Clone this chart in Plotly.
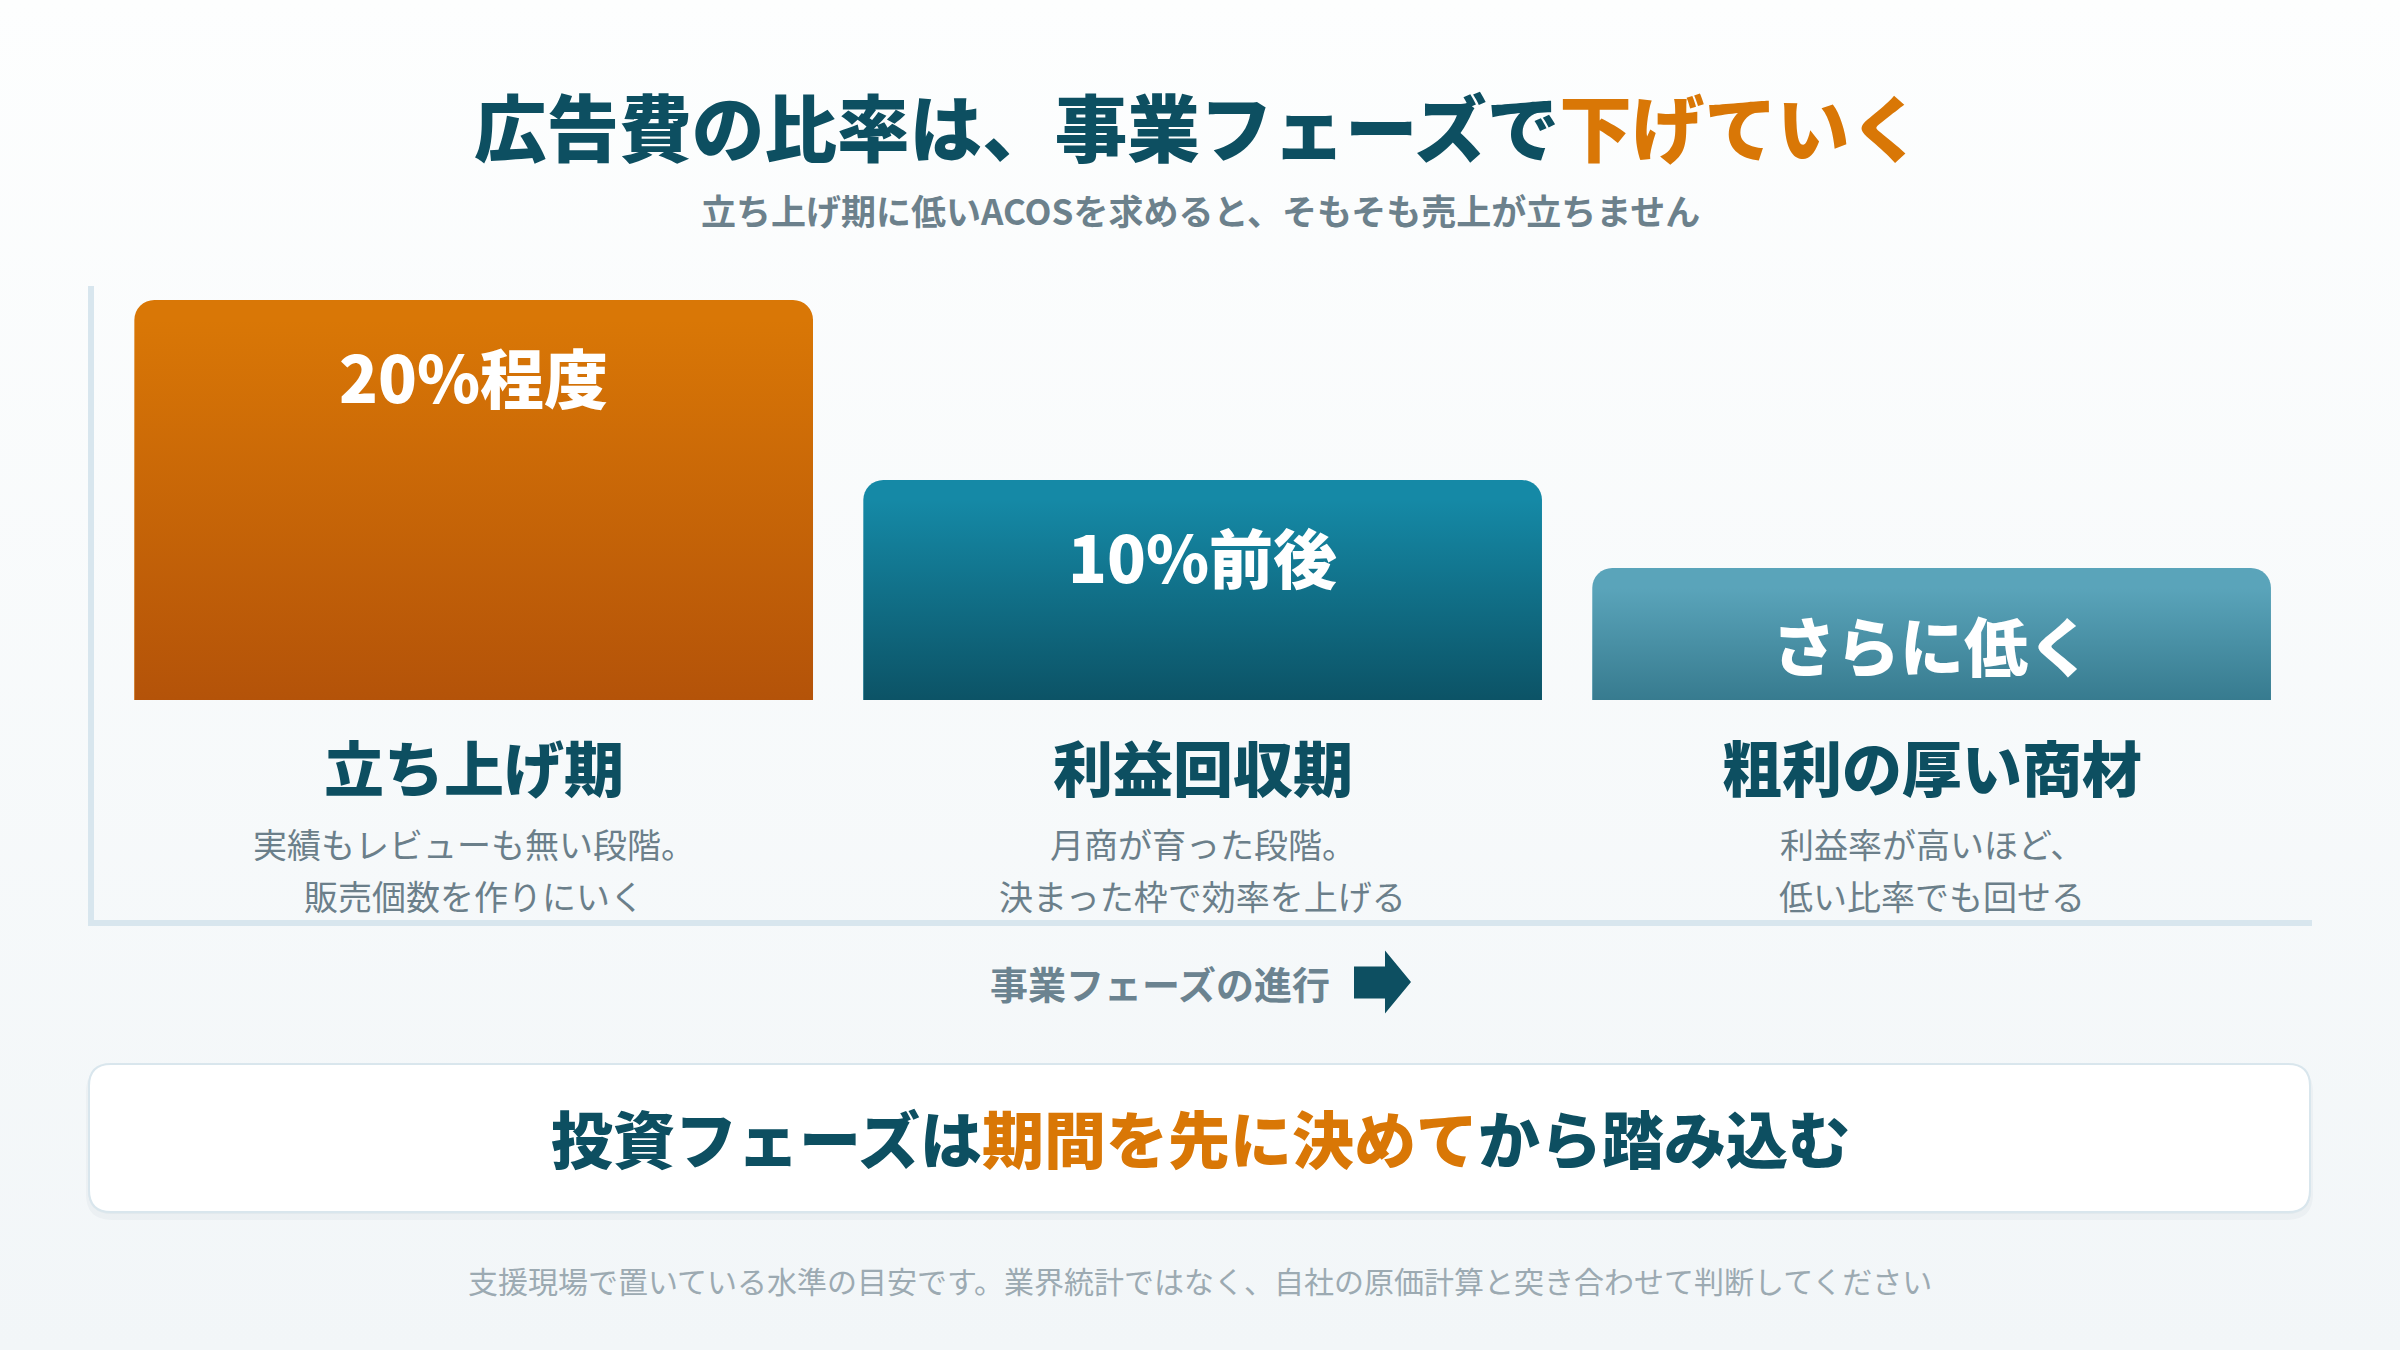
import base64
import plotly.graph_objects as go

# ---------------- data ----------------
title_main = "広告費の比率は、事業フェーズで"
title_accent = "下げていく"
subtitle = "立ち上げ期に低いACOSを求めると、そもそも売上が立ちません"

categories = ["立ち上げ期", "利益回収期", "粗利の厚い商材"]
bar_heights = [100, 55, 33]          # relative bar heights (tallest = 100)
bar_labels = ["20%程度", "10%前後", "さらに低く"]
desc_line1 = ["実績もレビューも無い段階。", "月商が育った段階。", "利益率が高いほど、"]
desc_line2 = ["販売個数を作りにいく", "決まった枠で効率を上げる", "低い比率でも回せる"]

axis_caption = "事業フェーズの進行"
message_parts = ["投資フェーズは", "期間を先に決めて", "から踏み込む"]
footnote = "支援現場で置いている水準の目安です。業界統計ではなく、自社の原価計算と突き合わせて判断してください"

# ---------------- style ----------------
W, H = 2400, 1350
FONT = "Noto Sans CJK JP, Noto Sans, sans-serif"
TEAL = "#0d4f61"
ORANGE = "#d97706"
GRAY = "#6b7f8a"
GRAY_SUB = "#6c818c"
GRAY_LIGHT = "#9caab2"
AXIS_LINE = "#d8e6ee"
bar_top_colors = ["#d97706", "#1589a6", "#5aa4ba"]
bar_bottom_colors = ["#b45309", "#0c5366", "#377b8f"]
BARGAP = 0.069
CORNER = 20

PLOT_LEFT, PLOT_RIGHT = 109.2, 2296.1
BAR_BASE, BAR_TOP = 700, 300


def px(x):
    return x / W


def py(y):
    return 1 - y / H


def svg_uri(svg):
    return "data:image/svg+xml;base64," + base64.b64encode(svg.encode()).decode()


def grad_uri(c0, a0, c1, a1):
    svg = (
        '<svg xmlns="http://www.w3.org/2000/svg" width="100" height="100" '
        'viewBox="0 0 100 100" preserveAspectRatio="none"><defs>'
        '<linearGradient id="g" x1="0" y1="0" x2="0" y2="1">'
        f'<stop offset="0" stop-color="{c0}" stop-opacity="{a0}"/>'
        f'<stop offset="1" stop-color="{c1}" stop-opacity="{a1}"/>'
        '</linearGradient></defs>'
        '<rect width="100" height="100" fill="url(#g)"/></svg>'
    )
    return svg_uri(svg)


def rrect_path(x0, y0, x1, y1, r):
    pts = [
        ("M", [(x0 + r, y0)]), ("L", [(x1 - r, y0)]), ("Q", [(x1, y0), (x1, y0 + r)]),
        ("L", [(x1, y1 - r)]), ("Q", [(x1, y1), (x1 - r, y1)]), ("L", [(x0 + r, y1)]),
        ("Q", [(x0, y1), (x0, y1 - r)]), ("L", [(x0, y0 + r)]), ("Q", [(x0, y0), (x0 + r, y0)]),
    ]
    s = ""
    for cmd, ps in pts:
        s += cmd + " ".join(f"{px(a):.6f},{py(b):.6f}" for a, b in ps) + " "
    return s + "Z"


def poly_path(points):
    return "M" + " L".join(f"{px(a):.6f},{py(b):.6f}" for a, b in points) + " Z"


fig = go.Figure()
fig.add_trace(go.Bar(
    x=categories, y=bar_heights,
    marker=dict(color=bar_top_colors, cornerradius=CORNER, line=dict(width=0)),
    hoverinfo="skip", showlegend=False,
))

ymax = max(bar_heights)
units_per_px = ymax / (BAR_BASE - BAR_TOP)
corner_units = CORNER * units_per_px

images = [dict(
    source=grad_uri("#fdfefe", 1, "#f2f6f8", 1), xref="paper", yref="paper",
    x=0, y=1, sizex=1, sizey=1, xanchor="left", yanchor="top",
    sizing="stretch", layer="below",
)]
for cat, v, cb in zip(categories, bar_heights, bar_bottom_colors):
    images.append(dict(
        source=grad_uri(cb, 0, cb, 1), xref="x", yref="y",
        x=cat, y=v - corner_units, sizex=1 - BARGAP, sizey=v - corner_units,
        xanchor="center", yanchor="top", sizing="stretch", layer="above",
    ))

annotations = []
# title + subtitle
annotations.append(dict(
    text=f"{title_main}<span style='color:{ORANGE}'>{title_accent}</span>",
    xref="paper", yref="paper", x=0.499, y=py(125), xanchor="center", yanchor="middle",
    showarrow=False, font=dict(family=FONT, size=72.6, color=TEAL, weight=900),
))
annotations.append(dict(
    text=subtitle, xref="paper", yref="paper", x=0.5, y=py(209),
    xanchor="center", yanchor="middle", showarrow=False,
    font=dict(family=FONT, size=35, color=GRAY_SUB, weight=700),
))
# in-bar labels, category names, descriptions
for cat, v, lab, d1, d2 in zip(categories, bar_heights, bar_labels, desc_line1, desc_line2):
    annotations.append(dict(
        text=lab, xref="x", yref="y", x=cat, y=v, yshift=-75,
        xanchor="center", yanchor="middle", showarrow=False,
        font=dict(family=FONT, size=64, color="white", weight=900),
    ))
    annotations.append(dict(
        text=cat, xref="x", yref="paper", x=cat, y=py(766),
        xanchor="center", yanchor="middle", showarrow=False,
        font=dict(family=FONT, size=60, color=TEAL, weight=900),
    ))
    for line, yy in ((d1, 843), (d2, 895)):
        annotations.append(dict(
            text=line, xref="x", yref="paper", x=cat, y=py(yy),
            xanchor="center", yanchor="middle", showarrow=False,
            font=dict(family=FONT, size=34, color=GRAY, weight=400),
        ))
# progress caption
annotations.append(dict(
    text=axis_caption, xref="paper", yref="paper", x=px(1160), y=py(983),
    xanchor="center", yanchor="middle", showarrow=False,
    font=dict(family=FONT, size=38, color="#6b8390", weight=700),
))
# message box text
annotations.append(dict(
    text=(f"{message_parts[0]}<span style='color:{ORANGE}'>{message_parts[1]}</span>"
          f"{message_parts[2]}"),
    xref="paper", yref="paper", x=0.5, y=py(1137), xanchor="center", yanchor="middle",
    showarrow=False, font=dict(family=FONT, size=62, color=TEAL, weight=900),
))
# footnote
annotations.append(dict(
    text=footnote, xref="paper", yref="paper", x=0.5, y=py(1280),
    xanchor="center", yanchor="middle", showarrow=False,
    font=dict(family=FONT, size=30, color=GRAY_LIGHT, weight=400),
))

shapes = [
    # frame lines
    dict(type="line", xref="paper", yref="paper", x0=px(91), x1=px(91), y0=py(286), y1=py(926),
         line=dict(color=AXIS_LINE, width=6), layer="below"),
    dict(type="line", xref="paper", yref="paper", x0=px(88), x1=px(2312), y0=py(923), y1=py(923),
         line=dict(color=AXIS_LINE, width=6), layer="below"),
    # arrow
    dict(type="path", xref="paper", yref="paper",
         path=poly_path([(1354, 966.5), (1385, 966.5), (1385, 950.5), (1411, 982),
                         (1385, 1013.5), (1385, 998.5), (1354, 998.5)]),
         fillcolor=TEAL, line=dict(width=0)),
    # message box shadow + box
    dict(type="path", xref="paper", yref="paper",
         path=rrect_path(86, 1066, 2313, 1220, 26),
         fillcolor="rgba(30,70,90,0.035)", line=dict(width=0), layer="below"),
    dict(type="path", xref="paper", yref="paper",
         path=rrect_path(88, 1064, 2311, 1214, 24),
         fillcolor="rgba(30,70,90,0.04)", line=dict(width=0), layer="below"),
    dict(type="path", xref="paper", yref="paper",
         path=rrect_path(89, 1064, 2310, 1212, 22),
         fillcolor="white", line=dict(color="#d9e6ed", width=2), layer="below"),
]

fig.update_layout(
    width=W, height=H, autosize=False,
    margin=dict(l=0, r=0, t=0, b=0, pad=0),
    paper_bgcolor="#f8fafb", plot_bgcolor="rgba(0,0,0,0)",
    bargap=BARGAP,
    xaxis=dict(domain=[px(PLOT_LEFT), px(PLOT_RIGHT)], type="category", range=[-0.5, 2.5],
               visible=False, fixedrange=True),
    yaxis=dict(domain=[py(BAR_BASE), py(BAR_TOP)], range=[0, ymax], visible=False,
               fixedrange=True),
    images=images, annotations=annotations, shapes=shapes,
    showlegend=False,
)

fig.write_html("out.html", config={"displayModeBar": False, "staticPlot": True},
               post_script="document.body.style.margin='0';document.body.style.overflow='hidden';")
